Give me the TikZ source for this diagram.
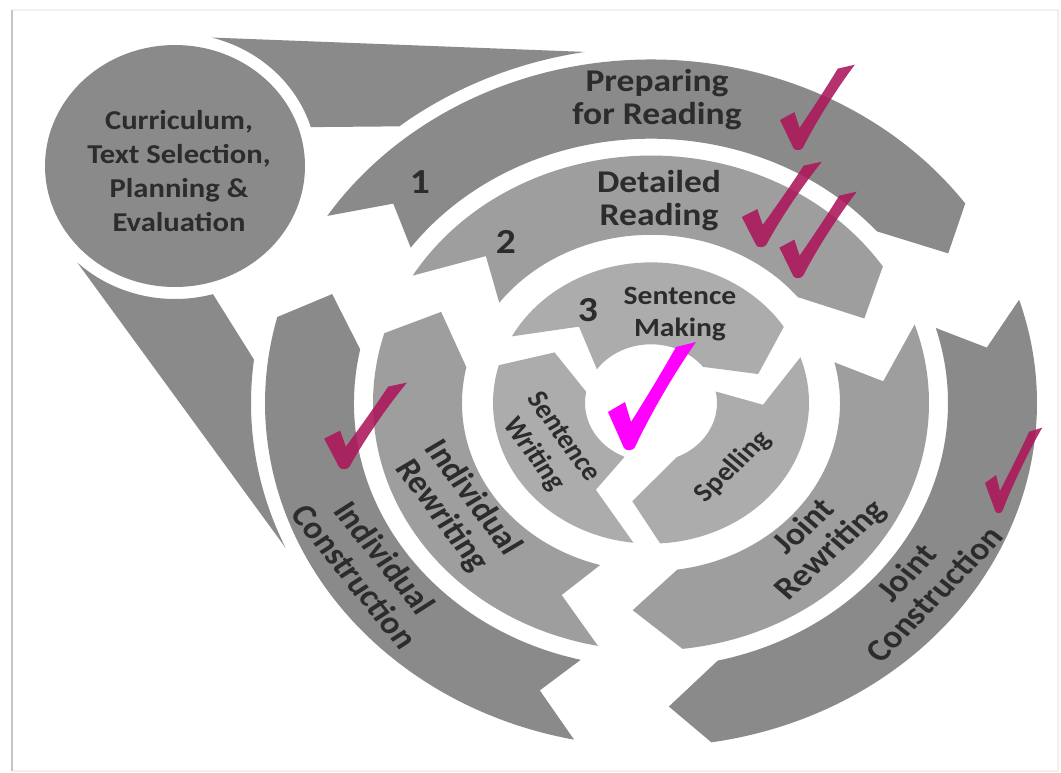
\documentclass[tikz,border=0pt]{standalone}
\usepackage{fontspec}
\setmainfont{Carlito}
\usetikzlibrary{shapes.geometric}
\definecolor{ringone}{HTML}{8A8A8A}
\definecolor{ringtwo}{HTML}{9E9E9E}
\definecolor{ringthree}{HTML}{ACACAC}
\definecolor{txt}{HTML}{2C2C2C}
\definecolor{tickred}{HTML}{AC165A}
\definecolor{tickpink}{HTML}{FF00FF}
% one arrow piece of a ring: style, r in, r out, tail out, tail in, notch, head out, head in, tip
\newcommand\ringpiece[9]{\fill[#1] (#4:#3) arc[start angle=#4, end angle=#7, radius=#3] -- (#9:{(#2+#3)/2}) -- (#8:#2) arc[start angle=#8, end angle=#5, radius=#2] -- (#6:{(#2+#3)/2}) -- cycle;}

\begin{document}
\begin{tikzpicture}[x=0.02cm, y=0.02cm,
    lbl/.style={text=txt, align=center, inner sep=0, xscale=1.124, font=\bfseries\fontsize{18}{18.7}\selectfont},
    smalllbl/.style={lbl, font=\bfseries\fontsize{15}{18}\selectfont},
    numlbl/.style={lbl, font=\bfseries\fontsize{20}{24}\selectfont},
    funnel/.style={fill=ringone},
    hubnode/.style={ellipse, fill=ringone, minimum width=5.2cm, minimum height=4.84cm, inner sep=0},
    hubtext/.style={lbl, font=\bfseries\fontsize{15.5}{19.3}\selectfont},
    crim/.style={fill=tickred, fill opacity=0.88},
    tickmark/.pic={\fill[pic actions] (-20,38) -- (-3,48) -- (3,28) .. controls (20,55) and (35,80) .. (48,103) -- (68,108) .. controls (45,75) and (22,35) .. (7,3) .. controls (5,-1) and (-2,-1) .. (-4,2) -- cycle;}]

    \useasboundingbox (0,0) rectangle (1061,-772);
    \fill[white] (0,0) rectangle (1061,-772);
    \draw[gray!12, line width=0.8pt] (12,-10) -- (1058,-10) -- (1058,-771) -- (12,-771);
    \draw[gray!45, line width=1.4pt] (12,-10) -- (12,-771);

    \coordinate (ctr) at (651,-403);
    \node[hubnode] (hub) at (175,-166) {};
    \node[hubtext] (hubtxt) at (179,-171) {Curriculum,\\Text Selection,\\Planning \&\\Evaluation};

    \fill[funnel] ([shift={(75:142 and 133)}]hub.center) -- ([shift={(99.5:400 and 356)}]ctr) arc[start angle=99.5, end angle=129, x radius=400, y radius=356] -- ([shift={(17:142 and 133)}]hub.center) arc[start angle=17, end angle=75, x radius=142, y radius=133] -- cycle;
    \fill[funnel] ([shift={(226.5:142 and 133)}]hub.center) arc[start angle=226.5, end angle=285.5, x radius=142, y radius=133] -- ([shift={(173:400 and 356)}]ctr) arc[start angle=173, end angle=204, x radius=400, y radius=356] -- cycle;

    \begin{scope}[shift={(ctr)}, yscale=0.89]
    \ringpiece{fill=ringone}{297}{386}{147}{144}{139}{35.5}{40.5}{29.5}
    \ringpiece{fill=ringone}{297}{386}{17.5}{16.5}{10.5}{-81}{-77}{-87}
    \ringpiece{fill=ringone}{297}{386}{258.5}{256.3}{251}{165.5}{168.3}{159}
    \ringpiece{fill=ringtwo}{189}{278}{149}{143.4}{135}{33.5}{39}{24}
    \ringpiece{fill=ringtwo}{189}{278}{18.5}{14}{6}{-83.5}{-82}{-94.5}
    \ringpiece{fill=ringtwo}{189}{278}{259}{254.4}{247.5}{163.6}{167.7}{154}
    \ringpiece{fill=ringthree}{66}{158}{151.7}{145}{130}{32.8}{38}{16.9}
    \ringpiece{fill=ringthree}{66}{158}{19}{11.3}{-1}{-86.7}{-67}{-99.6}
    \ringpiece{fill=ringthree}{66}{158}{263.6}{246.4}{240.5}{164.4}{169}{149.5}
    \end{scope}

    \node[lbl] (prep) at (657,-100) {Preparing\\for Reading};
    \node[lbl] (detail) at (659,-201) {Detailed\\Reading};
    \node[smalllbl] (making) at (680,-314) {Sentence\\Making};
    \node[numlbl] (one) at (420,-182) {1};
    \node[numlbl] (two) at (506,-242) {2};
    \node[numlbl] (three) at (588,-310) {3};
    \node[smalllbl, rotate=-57.1] (writing) at (548,-446) {Sentence\\Writing};
    \node[smalllbl, rotate=46.9] (spell) at (733,-467) {Spelling};
    \node[lbl, rotate=-56.2] (indrew) at (457,-507) {Individual\\Rewriting};
    \node[lbl, rotate=-54.2] (indcon) at (370,-567) {Individual\\Construction};
    \node[lbl, rotate=45.6] (jointrew) at (818,-539) {Joint\\Rewriting};
    \node[lbl, rotate=49] (jointcon) at (920,-583) {Joint\\Construction};

    \pic[crim, xscale=0.85, yscale=0.79] (tickA) at (797,-150) {tickmark};
    \pic[crim, xscale=0.91, yscale=0.79] (tickB) at (760,-247) {tickmark};
    \pic[crim, xscale=0.88, yscale=0.80] (tickC) at (797,-278) {tickmark};
    \pic[crim, xscale=0.94, yscale=0.80] (tickD) at (343,-469) {tickmark};
    \pic[crim, xscale=0.65, yscale=0.79] (tickE) at (998,-513) {tickmark};
    \pic[fill=tickpink] (tickF) at (628,-450) {tickmark};
    %
\end{tikzpicture}
\end{document}
